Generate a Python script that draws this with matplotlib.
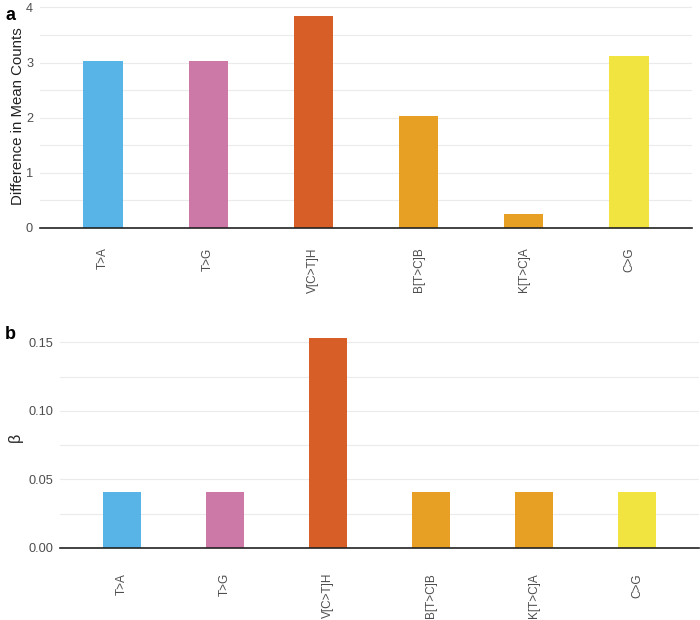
import matplotlib
matplotlib.use("Agg")
import matplotlib.pyplot as plt
from matplotlib.ticker import MultipleLocator

plt.rcParams['font.family'] = ['Liberation Sans', 'DejaVu Sans']

categories = ["T>A", "T>G", "V[C>T]H", "B[T>C]B", "K[T>C]A", "C>G"]
diff_counts = [3.03, 3.03, 3.85, 2.03, 0.25, 3.11]
beta = [0.041, 0.041, 0.1535, 0.041, 0.041, 0.041]
colors = ["#58B4E6", "#CC79A7", "#D75F27", "#E7A023", "#E7A023", "#F1E440"]

W, H = 700, 620
fig = plt.figure(figsize=(7, 6.2), dpi=100)
# panel a: x 40..692, y 5..228 ; panel b: x 60..700, y 327..548
ax1 = fig.add_axes([40 / W, 1 - 228 / H, 652 / W, 223 / H])
ax2 = fig.add_axes([60 / W, 1 - 548 / H, 639 / W, 221 / H])

def style(ax, vals, ylabel, major, minor, fmt, xpad):
    x = range(len(categories))
    ax.bar(x, vals, width=0.375, color=colors, zorder=2)
    ax.set_xlim(-0.6, len(categories) - 0.4)
    ax.set_ylim(0, max(vals) * 1.05)
    ax.yaxis.set_major_locator(MultipleLocator(major))
    ax.yaxis.set_minor_locator(MultipleLocator(minor))
    ax.yaxis.set_major_formatter(fmt)
    ax.grid(axis='y', which='both', color='#EBEBEB', linewidth=0.8, zorder=0)
    for s in ['top', 'right', 'left']:
        ax.spines[s].set_visible(False)
    ax.spines['bottom'].set_color('#222222')
    ax.spines['bottom'].set_linewidth(1.2)
    ax.set_xticks(list(x))
    ax.set_xticklabels(categories, rotation=90, fontsize=8.5, color='#4D4D4D')
    ax.tick_params(axis='x', length=0, pad=xpad)
    ax.tick_params(axis='y', which='both', length=0, labelsize=9.2, labelcolor='#4D4D4D', pad=5)
    ax.set_ylabel(ylabel, fontsize=10.8, color='#222222')
    ax.set_axisbelow(True)

style(ax1, diff_counts, "Difference in Mean Counts", 1, 0.5, '{x:.0f}', 14)
style(ax2, beta, "β", 0.05, 0.025, '{x:.2f}', 18)
ax2.yaxis.label.set_fontsize(11.5)
ax1.yaxis.set_label_coords((25 - 40) / 652, 0.5)
ax2.yaxis.set_label_coords((23 - 60) / 639, 0.5)

fig.text(5 / W, 1 - 7 / H, "a", fontsize=13, fontweight='bold', va='top')
fig.text(5 / W, 1 - 326 / H, "b", fontsize=13, fontweight='bold', va='top')

fig.savefig("out.png", dpi=100)
